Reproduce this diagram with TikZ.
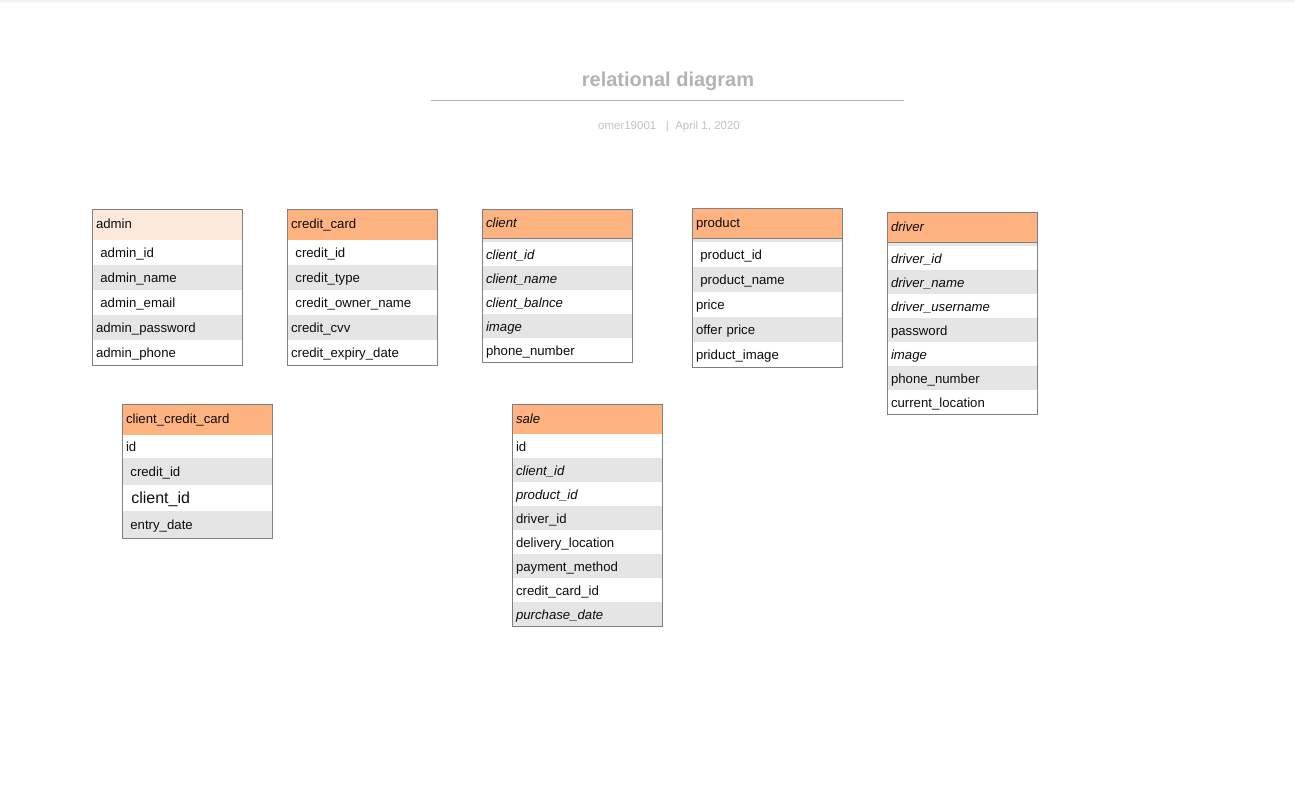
\documentclass[tikz,border=0pt]{standalone}
\usepackage{fontspec}
\setmainfont{Liberation Sans}
\usetikzlibrary{positioning}
\definecolor{hdrorange}{HTML}{FFB380}
\definecolor{hdrpeach}{HTML}{FDE9DC}
\definecolor{rowgray}{HTML}{E5E5E5}
\definecolor{edgegray}{HTML}{808080}
\definecolor{titlegray}{HTML}{B3B3B3}
\definecolor{bylinegray}{HTML}{C2C2C2}
\definecolor{pagetop}{HTML}{F0F0F0}
\newcommand\fieldfont{\fontsize{13.2}{15}\selectfont}
\tikzset{
    header/.style={rectangle, draw=edgegray, fill=hdrorange, minimum width=150pt, minimum height=31pt, text width=142pt, inner xsep=4pt, inner ysep=0pt, align=left, outer sep=0pt, text height=10.5pt, text depth=2.5pt, font=\fieldfont, text=black!95},
    field/.style={rectangle, fill=white, minimum width=150pt, minimum height=25pt, text width=142pt, inner xsep=4pt, inner ysep=0pt, align=left, outer sep=0pt, text height=12pt, text depth=1.5pt, font=\fieldfont, text=black!95},
    shade/.style={field, fill=rowgray},
    band/.style={rectangle, draw=edgegray, fill=rowgray, minimum width=150pt, minimum height=4pt, inner sep=0pt, outer sep=0pt},
    frame/.style={draw=edgegray, line width=0.9pt}
}

\begin{document}
\begin{tikzpicture}[x=1pt, y=-1pt]
    \useasboundingbox (0,0) rectangle (1295,811);
    \draw[pagetop, line width=1.5pt] (0,0.75) -- (1295,0.75);

    % title block
    \node[text=titlegray, font=\fontsize{20}{24}\selectfont\bfseries] (title) at (668,81) {relational diagram};
    \coordinate (rule-l) at (431,100);
    \coordinate (rule-r) at (904,100);
    \draw[titlegray, line width=1pt] (rule-l) -- (rule-r);
    \node[text=bylinegray, font=\fontsize{11.5}{14}\selectfont] (byline) at (669,126.5) {omer19001\ \ \ |\ \ April 1, 2020};

    % admin
    \node[header, fill=hdrpeach, anchor=north west] (admin) at (92,209) {admin};
    \node[field, below=0pt of admin] (admin-1) {\ admin\_id};
    \node[shade, below=0pt of admin-1] (admin-2) {\ admin\_name};
    \node[field, below=0pt of admin-2] (admin-3) {\ admin\_email};
    \node[shade, below=0pt of admin-3] (admin-4) {admin\_password};
    \node[field, below=0pt of admin-4] (admin-5) {admin\_phone};
    \draw[frame] (admin.north west) rectangle (admin-5.south east);

    % credit_card
    \node[header, anchor=north west] (card) at (287,209) {credit\_card};
    \node[field, below=0pt of card] (card-1) {\ credit\_id};
    \node[shade, below=0pt of card-1] (card-2) {\ credit\_type};
    \node[field, below=0pt of card-2] (card-3) {\ credit\_owner\_name};
    \node[shade, below=0pt of card-3] (card-4) {credit\_cvv};
    \node[field, below=0pt of card-4] (card-5) {credit\_expiry\_date};
    \draw[frame] (card.north west) rectangle (card-5.south east);

    % client
    \begin{scope}[field/.append style={minimum height=24pt}]
    \node[header, minimum height=29pt, anchor=north west] (client) at (482,209) {\itshape client};
    \node[band, below=0pt of client] (client-b) {};
    \node[field, below=0pt of client-b] (client-1) {\itshape client\_id};
    \node[shade, below=0pt of client-1] (client-2) {\itshape client\_name};
    \node[field, below=0pt of client-2] (client-3) {\itshape client\_balnce};
    \node[shade, below=0pt of client-3] (client-4) {\itshape image};
    \node[field, below=0pt of client-4] (client-5) {phone\_number};
    \draw[frame] (client.north west) rectangle (client-5.south east);
    \end{scope}

    % product
    \node[header, minimum height=30pt, anchor=north west] (product) at (692,208) {product};
    \node[band, below=0pt of product] (product-b) {};
    \node[field, below=0pt of product-b] (product-1) {\ product\_id};
    \node[shade, below=0pt of product-1] (product-2) {\ product\_name};
    \node[field, below=0pt of product-2] (product-3) {price};
    \node[shade, below=0pt of product-3] (product-4) {offer price};
    \node[field, below=0pt of product-4] (product-5) {priduct\_image};
    \draw[frame] (product.north west) rectangle (product-5.south east);

    % driver
    \begin{scope}[field/.append style={minimum height=24pt}]
    \node[header, minimum height=30pt, anchor=north west] (driver) at (887,212) {\itshape driver};
    \node[band, below=0pt of driver] (driver-b) {};
    \node[field, below=0pt of driver-b] (driver-1) {\itshape driver\_id};
    \node[shade, below=0pt of driver-1] (driver-2) {\itshape driver\_name};
    \node[field, below=0pt of driver-2] (driver-3) {\itshape driver\_username};
    \node[shade, below=0pt of driver-3] (driver-4) {password};
    \node[field, below=0pt of driver-4] (driver-5) {\itshape image};
    \node[shade, below=0pt of driver-5] (driver-6) {phone\_number};
    \node[field, below=0pt of driver-6] (driver-7) {current\_location};
    \draw[frame] (driver.north west) rectangle (driver-7.south east);
    \end{scope}

    % client_credit_card
    \node[header, anchor=north west] (ccard) at (122,404) {client\_credit\_card};
    \node[field, minimum height=23pt, below=0pt of ccard] (ccard-1) {id};
    \node[shade, minimum height=27pt, below=0pt of ccard-1] (ccard-2) {\ credit\_id};
    \node[field, minimum height=26pt, below=0pt of ccard-2, font=\fontsize{16}{19}\selectfont] (ccard-3) {\ client\_id};
    \node[shade, minimum height=27pt, below=0pt of ccard-3] (ccard-4) {\ entry\_date};
    \draw[frame] (ccard.north west) rectangle (ccard-4.south east);

    % sale
    \begin{scope}[field/.append style={minimum height=24pt}]
    \node[header, minimum height=30pt, anchor=north west] (sale) at (512,404) {\itshape sale};
    \node[field, below=0pt of sale] (sale-1) {id};
    \node[shade, below=0pt of sale-1] (sale-2) {\itshape client\_id};
    \node[field, below=0pt of sale-2] (sale-3) {\itshape product\_id};
    \node[shade, below=0pt of sale-3] (sale-4) {driver\_id};
    \node[field, below=0pt of sale-4] (sale-5) {delivery\_location};
    \node[shade, below=0pt of sale-5] (sale-6) {payment\_method};
    \node[field, below=0pt of sale-6] (sale-7) {credit\_card\_id};
    \node[shade, below=0pt of sale-7] (sale-8) {\itshape purchase\_date};
    \draw[frame] (sale.north west) rectangle (sale-8.south east);
    \end{scope}
\end{tikzpicture}
\end{document}
